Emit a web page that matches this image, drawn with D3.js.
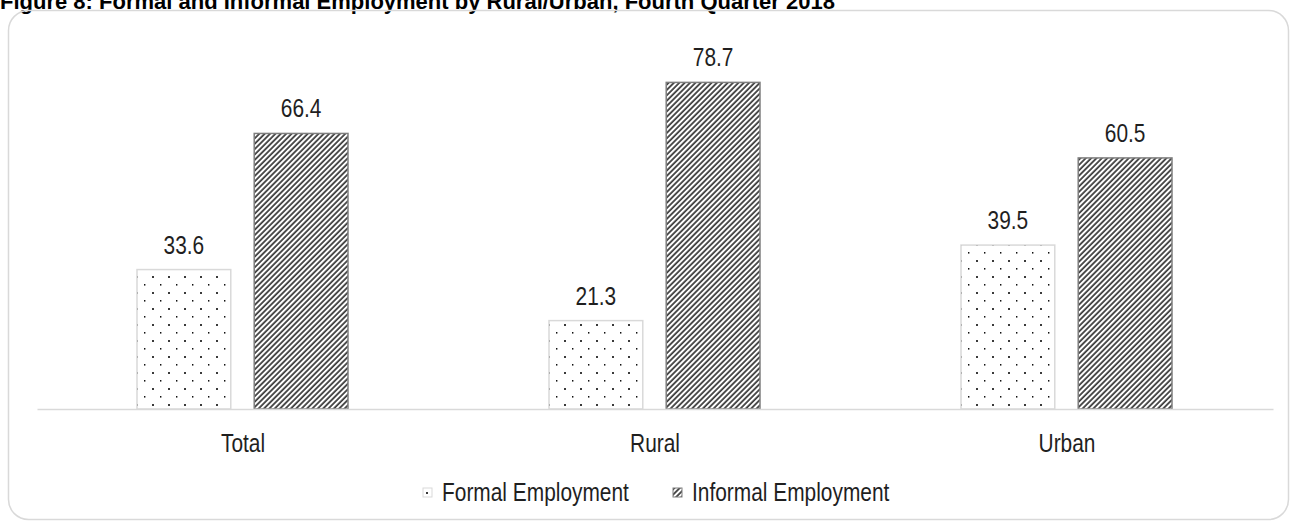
<!DOCTYPE html>
<html><head><meta charset="utf-8">
<script src="https://cdn.jsdelivr.net/npm/d3@7"></script>
<style>
html,body{margin:0;padding:0;background:#fff;}
svg{display:block;}
text{font-family:"Liberation Sans",Arial,sans-serif;}
</style></head>
<body>
<svg id="c" width="1297" height="525"></svg>
<script>
const titleText = "Figure 8: Formal and Informal Employment by Rural/Urban, Fourth Quarter 2018";
const categories = ["Total", "Rural", "Urban"];
const seriesNames = ["Formal Employment", "Informal Employment"];
const formalValues = [33.6, 21.3, 39.5];
const informalValues = [66.4, 78.7, 60.5];
const yDomain = [0, 90];

const NARROW = 0.82;
const FS = 25.5;
const TXT = "#1f1f1f";

const svg = d3.select("#c");
const W = 1297, H = 525;
svg.append("rect").attr("width", W).attr("height", H).attr("fill", "#fff");

const defs = svg.append("defs");
// dotted pattern
const pd = defs.append("pattern").attr("id", "dots").attr("patternUnits", "userSpaceOnUse")
  .attr("width", 16).attr("height", 16);
pd.append("rect").attr("width", 16).attr("height", 16).attr("fill", "#fff");
pd.append("rect").attr("x", 3).attr("y", 4).attr("width", 2).attr("height", 2).attr("fill", "#3a3a3a");
pd.append("rect").attr("x", 11).attr("y", 12).attr("width", 1.4).attr("height", 1.6).attr("fill", "#111");
// hatch pattern
const ph = defs.append("pattern").attr("id", "hatch").attr("patternUnits", "userSpaceOnUse")
  .attr("width", 3.8).attr("height", 10).attr("patternTransform", "rotate(45)");
ph.append("rect").attr("width", 3.8).attr("height", 10).attr("fill", "#fff");
ph.append("line").attr("x1", 1).attr("x2", 1).attr("y1", 0).attr("y2", 10)
  .attr("stroke", "#000").attr("stroke-width", 1.35);

// title (partly clipped at top as in reference)
svg.append("text").attr("x", 0).attr("y", 9).attr("font-size", 22).attr("font-weight", "bold")
  .attr("fill", "#000").text(titleText);

// chart frame
svg.append("rect").attr("x", 8.5).attr("y", 10.5).attr("width", 1280).attr("height", 509)
  .attr("rx", 20).attr("ry", 20).attr("fill", "none").attr("stroke", "#d9d9d9").attr("stroke-width", 1.5);

const x0 = d3.scaleBand().domain(categories).range([37, 1273]).padding(0);
const x1 = d3.scaleBand().domain(seriesNames).range([100, 311]).paddingInner(0.2);
const y = d3.scaleLinear().domain(yDomain).range([409, 35.5]);

const data = categories.map((c, i) => ({cat: c, vals: [
  {s: seriesNames[0], v: formalValues[i]},
  {s: seriesNames[1], v: informalValues[i]}]}));

const fills = {"Formal Employment": "url(#dots)", "Informal Employment": "url(#hatch)"};
const strokes = {"Formal Employment": "#d9d9d9", "Informal Employment": "#7f7f7f"};

const g = svg.append("g");
const grp = g.selectAll("g.cat").data(data).join("g").attr("class", "cat")
  .attr("transform", d => `translate(${x0(d.cat)},0)`);
grp.selectAll("rect").data(d => d.vals).join("rect")
  .attr("x", d => x1(d.s)).attr("width", x1.bandwidth())
  .attr("y", d => y(d.v)).attr("height", d => y(0) - y(d.v))
  .attr("fill", d => fills[d.s]).attr("stroke", d => strokes[d.s]).attr("stroke-width", 1.5);
grp.selectAll("text.val").data(d => d.vals).join("text").attr("class", "val")
  .attr("transform", d => `translate(${x1(d.s) + x1.bandwidth() / 2},${y(d.v) - 16}) scale(${NARROW},1)`)
  .attr("text-anchor", "middle").attr("font-size", FS).attr("fill", TXT)
  .text(d => d.v.toFixed(1));

// x axis
const xAxis = d3.axisBottom(x0).tickSize(0).tickPadding(0);
const ax = svg.append("g").attr("transform", `translate(0,${y(0)})`).call(xAxis);
ax.attr("font-family", null);
ax.select(".domain").attr("stroke", "#d9d9d9").attr("stroke-width", 1.5);
ax.selectAll(".tick text").attr("font-size", FS).attr("fill", TXT)
  .attr("dy", 0).attr("y", 43).attr("transform", `scale(${NARROW},1)`)
  .style("font-family", "'Liberation Sans', Arial, sans-serif");

// legend
const legendX = [423, 673];
const lg = svg.append("g").selectAll("g").data(seriesNames).join("g")
  .attr("transform", (d, i) => `translate(${legendX[i]},${488})`);
lg.append("rect").attr("width", 9).attr("height", 9)
  .attr("fill", d => fills[d]).attr("stroke", d => strokes[d]).attr("stroke-width", 1);
lg.append("text").attr("transform", `translate(19,13) scale(${NARROW},1)`)
  .attr("font-size", FS).attr("fill", TXT).text(d => d);
</script>
</body></html>
